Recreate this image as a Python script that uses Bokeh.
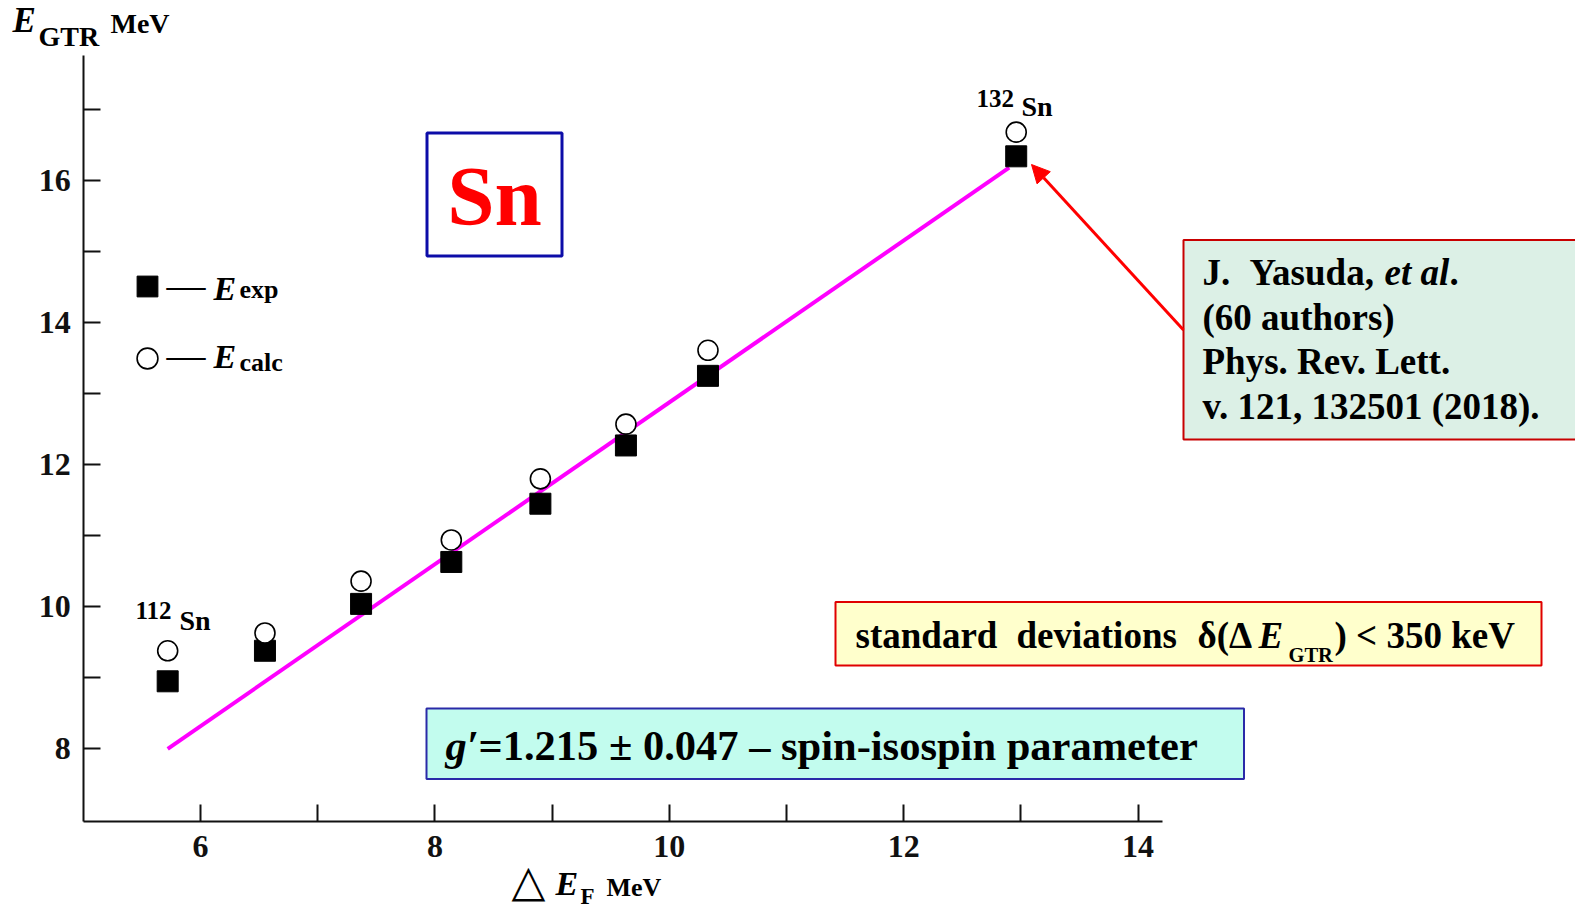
from bokeh.plotting import figure
from bokeh.models import (Range1d, LinearAxis, FixedTicker, Label, BoxAnnotation,
                          Arrow, NormalHead, Legend, LegendItem, ColumnDataSource)
from bokeh.core.properties import value
from bokeh.embed import file_html
from bokeh.resources import INLINE

# Fermi-energy difference ΔE_F (MeV) for the Sn isotopes 112Sn ... 132Sn
delta_ef = [5.72, 6.55, 7.37, 8.14, 8.90, 9.63, 10.33, 12.96]
# Gamow-Teller resonance energies (MeV)
e_exp = [8.95, 9.38, 10.04, 10.63, 11.45, 12.27, 13.25, 16.34]
e_calc = [9.38, 9.63, 10.36, 10.94, 11.80, 12.57, 13.61, 16.68]
# linear trend through the measured points
trend_x = [5.72, 12.90]
trend_y = [8.00, 16.18]

x_ticks = [6, 8, 10, 12, 14]
x_minor = [7, 9, 11, 13]
y_ticks = [8, 10, 12, 14, 16]
y_minor = [9, 11, 13, 15, 17]

W, H = 1575, 910
PX_X = 117.2                     # pixels per MeV along x
PX_Y = 71.04                     # pixels per MeV along y
X_START = 6 - 200 / PX_X
Y_END = 8 + 748.3 / PX_Y
X_END = X_START + W / PX_X
Y_START = Y_END - H / PX_Y


def px_x(px):
    return X_START + px / PX_X


def px_y(py):
    return Y_END - py / PX_Y


SERIF = "Liberation Serif"

p = figure(width=W, height=H, output_backend="svg", toolbar_location=None,
           x_range=Range1d(X_START, X_END), y_range=Range1d(Y_START, Y_END),
           x_axis_type=None, y_axis_type=None, min_border=0,
           outline_line_color=None, background_fill_color="white",
           border_fill_color="white")

x_lo, x_hi = px_x(83.3), px_x(1162)
y_lo, y_hi = px_y(821), px_y(55)


def style_axis(ax):
    ax.axis_line_width = 2
    ax.axis_line_color = "#111111"
    ax.major_tick_line_width = 2
    ax.minor_tick_line_width = 2
    ax.major_tick_line_color = "#111111"
    ax.minor_tick_line_color = "#111111"
    ax.major_tick_in = 17
    ax.major_tick_out = 0
    ax.minor_tick_in = 17
    ax.minor_tick_out = 0
    ax.major_label_text_font = SERIF
    ax.major_label_text_font_style = "bold"
    ax.major_label_text_font_size = "32px"
    ax.major_label_text_color = "#111111"


xaxis = LinearAxis(ticker=FixedTicker(ticks=x_ticks, minor_ticks=x_minor),
                   fixed_location=y_lo, bounds=(x_lo, x_hi), major_label_standoff=14)
style_axis(xaxis)
p.add_layout(xaxis, "below")

yaxis = LinearAxis(ticker=FixedTicker(ticks=y_ticks, minor_ticks=y_minor),
                   fixed_location=x_lo, bounds=(y_lo, y_hi), major_label_standoff=13)
style_axis(yaxis)
p.add_layout(yaxis, "left")

# annotation boxes
boxes = [
    (426.5, 561.5, 132.5, 255.5, None, "#0c0ca8", 3),
    (1183, 1590, 239.5, 439, "#dcf0e6", "#c80000", 2),
    (835, 1541, 601.5, 665, "#ffffcc", "#e00000", 2),
    (426, 1243.5, 708, 778.5, "#c2fcee", "#2a2aa8", 2),
]
for l, r, t, b, fc, lc, lw in boxes:
    p.add_layout(BoxAnnotation(left=px_x(l), right=px_x(r), top=px_y(t), bottom=px_y(b),
                               fill_color=fc if fc else "white",
                               fill_alpha=1.0 if fc else 0.0,
                               line_color=lc, line_alpha=1.0, line_width=lw,
                               level="underlay"))

src = ColumnDataSource(dict(x=delta_ef, exp=e_exp, calc=e_calc))
p.line(trend_x, trend_y, line_color="#ff00ff", line_width=4)
r_exp = p.scatter("x", "exp", source=src, marker="square", size=21,
                  fill_color="black", line_color="black")
r_calc = p.scatter("x", "calc", source=src, marker="circle", size=20,
                   fill_color="white", line_color="black", line_width=1.6)

legend = Legend(items=[LegendItem(label=value(" "), renderers=[r_exp]),
                       LegendItem(label=value(" "), renderers=[r_calc])],
                location=(121, 526), padding=0, margin=0, spacing=20,
                glyph_width=52, glyph_height=52, label_standoff=0,
                label_text_font_size="1px", label_width=1, label_height=1,
                background_fill_alpha=0, border_line_alpha=0)
p.add_layout(legend, "center")

# Label places the alphabetic baseline about a third of an em low
BASE_SHIFT = 0.36


def txt(s, x, y, size, style="bold", color="black", font=SERIF, align="left"):
    p.add_layout(Label(x=px_x(x), y=px_y(y - BASE_SHIFT * size), text=s, text_font=font,
                       text_font_size=f"{size}px", text_font_style=style,
                       text_color=color, text_align=align,
                       text_baseline="alphabetic"))


# axis titles
txt("E", 12, 33, 35, "bold italic")
txt("GTR", 38, 46, 28)
txt("MeV", 110, 33, 28)
txt("\u25b3", 511, 896, 44, "normal", font="DejaVu Sans")
txt("E", 555, 895, 34, "bold italic")
txt("F", 580, 904, 23)
txt("MeV", 606, 896, 26)

# legend texts
txt("\u2014", 166, 298.5, 39, "normal")
txt("E", 213, 300, 34, "bold italic")
txt("exp", 239, 298, 26)
txt("\u2014", 166, 368.5, 39, "normal")
txt("E", 213, 368, 34, "bold italic")
txt("calc", 239, 371, 26)

# isotope labels
txt("112", 135, 619, 25)
txt("Sn", 179, 630.5, 28)
txt("132", 976, 106.5, 25)
txt("Sn", 1021, 116, 28)

# element tag
txt("Sn", 494, 226, 85, color="#ff0000", align="center")

# reference
txt("J.", 1202, 285, 37)
txt("Yasuda,", 1249, 285, 37)
txt("et al", 1384, 285, 37, "bold italic")
txt(".", 1449, 285, 37)
txt("(60 authors)", 1202, 330, 37)
txt("Phys. Rev. Lett.", 1202, 374.5, 37)
txt("v. 121, 132501 (2018).", 1202, 419, 37)

p.add_layout(Arrow(end=NormalHead(size=18, fill_color="red", line_color="red"),
                   x_start=px_x(1183), y_start=px_y(329.5),
                   x_end=px_x(1031), y_end=px_y(164),
                   line_color="red", line_width=3))

# spread of the deviations
txt("standard", 855, 648, 37)
txt("deviations", 1016, 648, 37)
txt("\u03b4(\u0394", 1197, 648, 37)
txt("E", 1258, 648, 37, "bold italic")
txt("GTR", 1288, 662, 20.5)
txt(") < 350 keV", 1334, 648, 37)

# Landau-Migdal parameter
txt("g\u2032", 445, 760, 42.5, "bold italic")
txt("=1.215 \u00b1 0.047 \u2013 spin-isospin parameter", 478, 760, 42.5)

open("out.html", "w").write(file_html(p, INLINE))
